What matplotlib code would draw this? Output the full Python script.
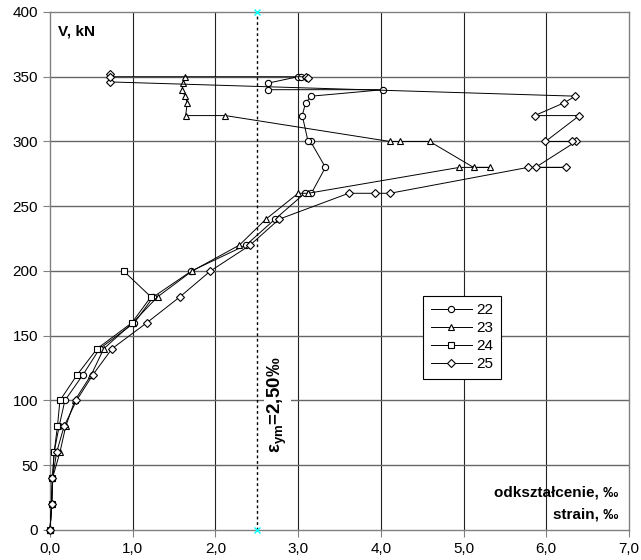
import matplotlib
matplotlib.use('Agg')
import matplotlib.pyplot as plt

plt.rcParams['font.family'] = ['Liberation Sans', 'DejaVu Sans']

# obciazenie V [kN] i odksztalcenie [permille] - tensometry 22..25
v_22 = [0, 20, 40, 60, 80, 100, 120, 140, 160, 180, 200, 220, 240, 260, 260, 280,
        300, 300, 320, 330, 335, 340, 340, 345, 350, 350]
e_22 = [0, 0.02, 0.03, 0.05, 0.11, 0.18, 0.40, 0.60, 1.02, 1.25, 1.71, 2.37, 2.72, 3.08, 3.16, 3.33,
        3.15, 3.12, 3.05, 3.09, 3.16, 4.03, 2.63, 2.63, 3.00, 3.04]

v_23 = [0, 20, 40, 60, 80, 100, 120, 140, 160, 180, 200, 220, 240, 260, 260,
        280, 280, 280, 300, 300, 300, 320, 320, 330, 335, 340, 345, 350]
e_23 = [0, 0.02, 0.03, 0.12, 0.19, 0.30, 0.50, 0.65, 1.00, 1.30, 1.72, 2.29, 2.61, 3.00, 3.12,
        4.95, 5.32, 5.12, 4.59, 4.23, 4.11, 2.12, 1.64, 1.66, 1.63, 1.60, 1.61, 1.63]

v_24 = [0, 20, 40, 60, 80, 100, 120, 140, 160, 180, 200]
e_24 = [0, 0.02, 0.03, 0.05, 0.09, 0.12, 0.33, 0.57, 0.99, 1.22, 0.89]

v_25 = [0, 20, 40, 60, 80, 100, 120, 140, 160, 180, 200, 220, 240, 260, 260, 260,
        280, 280, 280, 300, 300, 300, 320, 320, 330, 335, 346, 352, 350, 350, 349]
e_25 = [0, 0.02, 0.03, 0.08, 0.17, 0.32, 0.52, 0.75, 1.17, 1.57, 1.94, 2.42, 2.77, 3.61, 3.93, 4.11,
        5.78, 6.24, 5.87, 6.36, 6.31, 5.99, 6.40, 5.86, 6.22, 6.35, 0.72, 0.72, 0.72, 3.10, 3.12]

eps_ym = 2.50
x_ticks = [0, 1, 2, 3, 4, 5, 6, 7]
y_ticks = [0, 50, 100, 150, 200, 250, 300, 350, 400]

fig = plt.figure(figsize=(6.41, 5.6), dpi=100)
ax = fig.add_axes([0.078, 0.0536, 0.9033, 0.925])

for x in x_ticks[1:-1]:
    ax.axvline(x, color='#222222', lw=0.8, zorder=0)
for y in y_ticks[1:-1]:
    ax.axhline(y, color='#666666', lw=1.0, zorder=0)

seria = [
    (e_22, v_22, 'o', 4.5, '22'),
    (e_23, v_23, '^', 5, '23'),
    (e_24, v_24, 's', 4.5, '24'),
    (e_25, v_25, 'D', 3.6, '25'),
]
for e, v, m, ms, lab in seria:
    ax.plot(e, v, color='black', lw=0.7, marker=m, ms=ms, mfc='white', mec='black',
            mew=0.8, label=lab, clip_on=False, zorder=3)

# granica plastycznosci
ax.plot([eps_ym, eps_ym], [0, 400], color='black', lw=1, ls=(0, (2, 2)), zorder=2)
ax.plot([eps_ym, eps_ym], [0, 400], ls='none', marker='x', ms=5, color='cyan', mew=1,
        clip_on=False, zorder=4)
ax.text(2.75, 97, 'ε$_{\\mathregular{ym}}$=2,50‰', rotation=90, ha='center', va='center',
        fontsize=13.5, fontweight='bold',
        bbox=dict(facecolor='white', edgecolor='none', pad=1), zorder=2.5)

ax.text(0.1, 385, 'V, kN', fontsize=11, fontweight='bold', ha='left', va='center')
ax.text(6.87, 29, 'odkształcenie, ‰', fontsize=11, fontweight='bold', ha='right', va='center')
ax.text(6.87, 12, 'strain, ‰', fontsize=11, fontweight='bold', ha='right', va='center')

ax.set_xlim(0, 7)
ax.set_ylim(0, 400)
ax.set_xticks(x_ticks)
ax.set_xticklabels([f'{t:.1f}'.replace('.', ',') for t in x_ticks])
ax.set_yticks(y_ticks)
ax.tick_params(axis='both', direction='out', length=5, color='#808080', labelsize=11)
for s in ax.spines.values():
    s.set_color('#808080')
    s.set_linewidth(1)

leg = ax.legend(loc='upper left', bbox_to_anchor=(0.644, 0.452), fontsize=11, frameon=True,
                fancybox=False, edgecolor='black', framealpha=1, borderpad=0.5,
                labelspacing=0.25, handlelength=2.7, handletextpad=0.3, borderaxespad=0)
leg.get_frame().set_linewidth(0.8)

fig.savefig('out.png', dpi=100)
